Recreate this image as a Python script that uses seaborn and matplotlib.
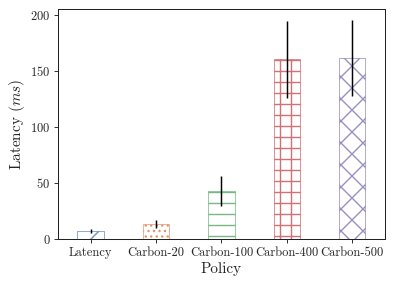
import numpy as np
import pandas as pd
import matplotlib
matplotlib.use("Agg")
import matplotlib.pyplot as plt
import seaborn as sns

policies = ["Latency", "Carbon-20", "Carbon-100", "Carbon-400", "Carbon-500"]
latency = [7, 13.5, 43, 160, 161]
latency_err = [2, 3.5, 13.5, 34, 34]
hatches = ["/", "..", "-", "+", "x"]

sns.set_style("ticks")
plt.rcParams["font.family"] = ["serif"]
plt.rcParams["font.serif"] = ["cmr10"]
plt.rcParams["mathtext.fontset"] = "cm"
plt.rcParams["axes.formatter.use_mathtext"] = True
plt.rcParams["hatch.linewidth"] = 1.5

# hatch cell size follows dpi, so draw on a bigger canvas at low dpi
DPI = 66.5
fig, ax = plt.subplots(figsize=(399 / DPI, 288 / DPI), dpi=DPI)

df = pd.DataFrame({"Policy": policies, "Latency": latency})
colors = sns.color_palette("deep", len(policies))

sns.barplot(data=df, x="Policy", y="Latency", hue="Policy", palette=colors,
            width=0.4, errorbar=None, legend=False, ax=ax)

for bar, c, h in zip(ax.patches, colors, hatches):
    bar.set_facecolor("white")
    bar.set_edgecolor(c)
    bar.set_alpha(0.8)
    bar.set_hatch(h)
    bar.set_linewidth(0.8)

ax.errorbar(np.arange(len(policies)), latency, yerr=latency_err,
            fmt="none", ecolor="black", elinewidth=1.6, capsize=0)

ax.set_xlim(-0.5, 4.5)
ax.set_ylim(0, 205)
ax.set_yticks([0, 50, 100, 150, 200])
ax.set_xlabel("Policy", fontsize=16.5)
ax.set_ylabel("Latency ($ms$)", fontsize=16.5)
ax.tick_params(labelsize=13.5, length=4.5, width=1.0)
for s in ax.spines.values():
    s.set_linewidth(1.1)
    s.set_color("#222222")

fig.subplots_adjust(left=0.145, right=0.965, top=0.969, bottom=0.170)
plt.savefig("out.png", dpi=DPI)
